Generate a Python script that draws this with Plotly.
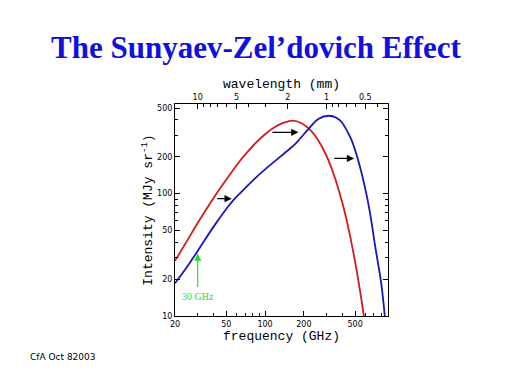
import numpy as np
import plotly.graph_objects as go

# ---- data ----
# unshifted CMB spectrum (red)
cmb_freq = [20, 25, 30, 40, 50, 60, 70, 85, 100, 120, 140, 165, 190, 220, 250, 280, 310, 350, 400, 450, 500, 550, 590]
cmb_int = [28.2, 41.7, 57.5, 92.5, 130, 170, 208, 261, 306, 352, 380, 395, 378, 338, 288, 236, 188, 133, 82.5, 48.7, 27.7, 15.3, 9.3]

# SZ-distorted spectrum (blue)
sz_freq = [20, 25, 30, 40, 50, 57, 72, 84, 100, 120, 140, 171, 217, 259, 314, 360, 394, 430, 471, 530, 597, 652, 716, 798, 850]
sz_int = [18.5, 25.5, 34, 54, 75, 89, 114, 134, 158, 185, 212, 254, 337, 408, 433, 415, 383, 330, 271, 185, 112, 70, 37, 18.4, 10]

# shift arrows: (start freq, end freq, intensity)
arrow_start = [41.4, 111, 336]
arrow_end = [55.1, 181.5, 491]
arrow_level = [91, 317, 194]

# 30 GHz marker arrow
marker_freq = 30
marker_from = 16.8
marker_to = 32.4
marker_label = "30 GHz"

# axis ticks
x_ticks = [20, 50, 100, 200, 500]
y_ticks = [10, 20, 50, 100, 200, 500]
wl_major = [10, 5, 2, 1, 0.5]        # wavelength in mm
wl_minor = [9, 8, 7, 6, 4, 3, 0.9, 0.8, 0.7, 0.6, 0.4]
minor_x = [30, 40, 60, 70, 80, 90, 300, 400, 600, 700, 800, 900]
minor_y = [30, 40, 60, 70, 80, 90, 300, 400]
C_MM_GHZ = 299.792458

x_range = [20, 900]
y_range = [10, 540]

red = "#d41a1a"
blue = "#1818b4"
green = "#22dd22"
tick_font = dict(family="DejaVu Sans", size=8, color="black")
lab_font = dict(family="Liberation Mono", size=13, color="black")

# page offset of the browser (body margin) compensated in margins
OFF = 8
ML, MR, MT, MB = 175 - OFF, 124 + OFF, 104 - OFF, 68 + OFF
pw, ph = 512 - ML - MR, 384 - MT - MB

fig = go.Figure()
fig.add_trace(go.Scatter(x=cmb_freq, y=cmb_int, mode="lines",
                         line=dict(color=red, width=1.8, shape="spline", smoothing=1.0),
                         showlegend=False, hoverinfo="skip"))
fig.add_trace(go.Scatter(x=sz_freq, y=sz_int, mode="lines",
                         line=dict(color=blue, width=1.8, shape="spline", smoothing=1.0),
                         showlegend=False, hoverinfo="skip"))
# invisible trace to anchor the top (wavelength) axis
fig.add_trace(go.Scatter(x=x_range, y=y_range, xaxis="x2", mode="markers",
                         marker=dict(opacity=0), showlegend=False, hoverinfo="skip"))

for s, e, lv in zip(arrow_start, arrow_end, arrow_level):
    fig.add_annotation(x=np.log10(e), y=np.log10(lv), ax=np.log10(s), ay=np.log10(lv),
                       xref="x", yref="y", axref="x", ayref="y", text="",
                       showarrow=True, arrowhead=2, arrowsize=1.2, arrowwidth=1.2,
                       arrowcolor="black")

fig.add_annotation(x=np.log10(marker_freq), y=np.log10(marker_to),
                   ax=np.log10(marker_freq), ay=np.log10(marker_from),
                   xref="x", yref="y", axref="x", ayref="y", text="",
                   showarrow=True, arrowhead=2, arrowsize=1.2, arrowwidth=1.2,
                   arrowcolor=green)
fig.add_annotation(x=np.log10(marker_freq), y=np.log10(marker_from), xref="x", yref="y",
                   text=marker_label, showarrow=False, yanchor="top", yshift=-1,
                   font=dict(family="Liberation Serif", size=10, color=green))

fig.add_annotation(x=(63 - 175) / pw, y=(316 - 357) / ph, xref="paper", yref="paper",
                   text="CfA Oct 82003", showarrow=False, xanchor="center", yanchor="middle",
                   font=dict(family="DejaVu Sans", size=9, color="black"))

fig.update_layout(
    width=512, height=384,
    margin=dict(l=ML, r=MR, t=MT, b=MB, autoexpand=False),
    paper_bgcolor="white", plot_bgcolor="white",
    showlegend=False,
    title=dict(text="<b>The Sunyaev-Zel’dovich Effect</b>", x=(256 - OFF) / 512, xanchor="center",
               y=1 - (47 - OFF) / 384, yanchor="middle", xref="container", yref="container",
               font=dict(family="Liberation Serif", size=31, color="#1010e0")),
    xaxis=dict(type="log", range=np.log10(x_range).tolist(), showgrid=False, zeroline=False,
               automargin=False,
               showline=True, linecolor="black", linewidth=1, mirror=False,
               ticks="inside", ticklen=5, tickcolor="black", tickwidth=1,
               tickvals=x_ticks, ticktext=[str(v) for v in x_ticks], tickfont=tick_font,
               minor=dict(tickvals=minor_x, ticks="inside", ticklen=3, tickcolor="black"),
               title=dict(text="frequency (GHz)", font=lab_font, standoff=2)),
    xaxis2=dict(type="log", range=np.log10(x_range).tolist(), overlaying="x", side="top",
                automargin=False,
                showgrid=False, zeroline=False, showline=True, linecolor="black",
                ticks="inside", ticklen=5, tickcolor="black",
                tickvals=[C_MM_GHZ / w for w in wl_major], ticktext=[f"{w:g}" for w in wl_major],
                tickfont=tick_font,
                minor=dict(tickvals=[C_MM_GHZ / w for w in wl_minor], ticks="inside", ticklen=3,
                           tickcolor="black"),
                title=dict(text="wavelength (mm)", font=lab_font, standoff=1)),
    yaxis=dict(type="log", range=np.log10(y_range).tolist(), showgrid=False, zeroline=False,
               automargin=False,
               showline=True, linecolor="black", linewidth=1, mirror="ticks",
               ticks="inside", ticklen=5, tickcolor="black",
               tickvals=y_ticks, ticktext=[str(v) for v in y_ticks], tickfont=tick_font,
               minor=dict(tickvals=minor_y, ticks="inside", ticklen=3, tickcolor="black"),
               title=dict(text="Intensity (MJy sr<sup>-1</sup>)", font=lab_font, standoff=1)),
)

fig.write_html("out.html")
